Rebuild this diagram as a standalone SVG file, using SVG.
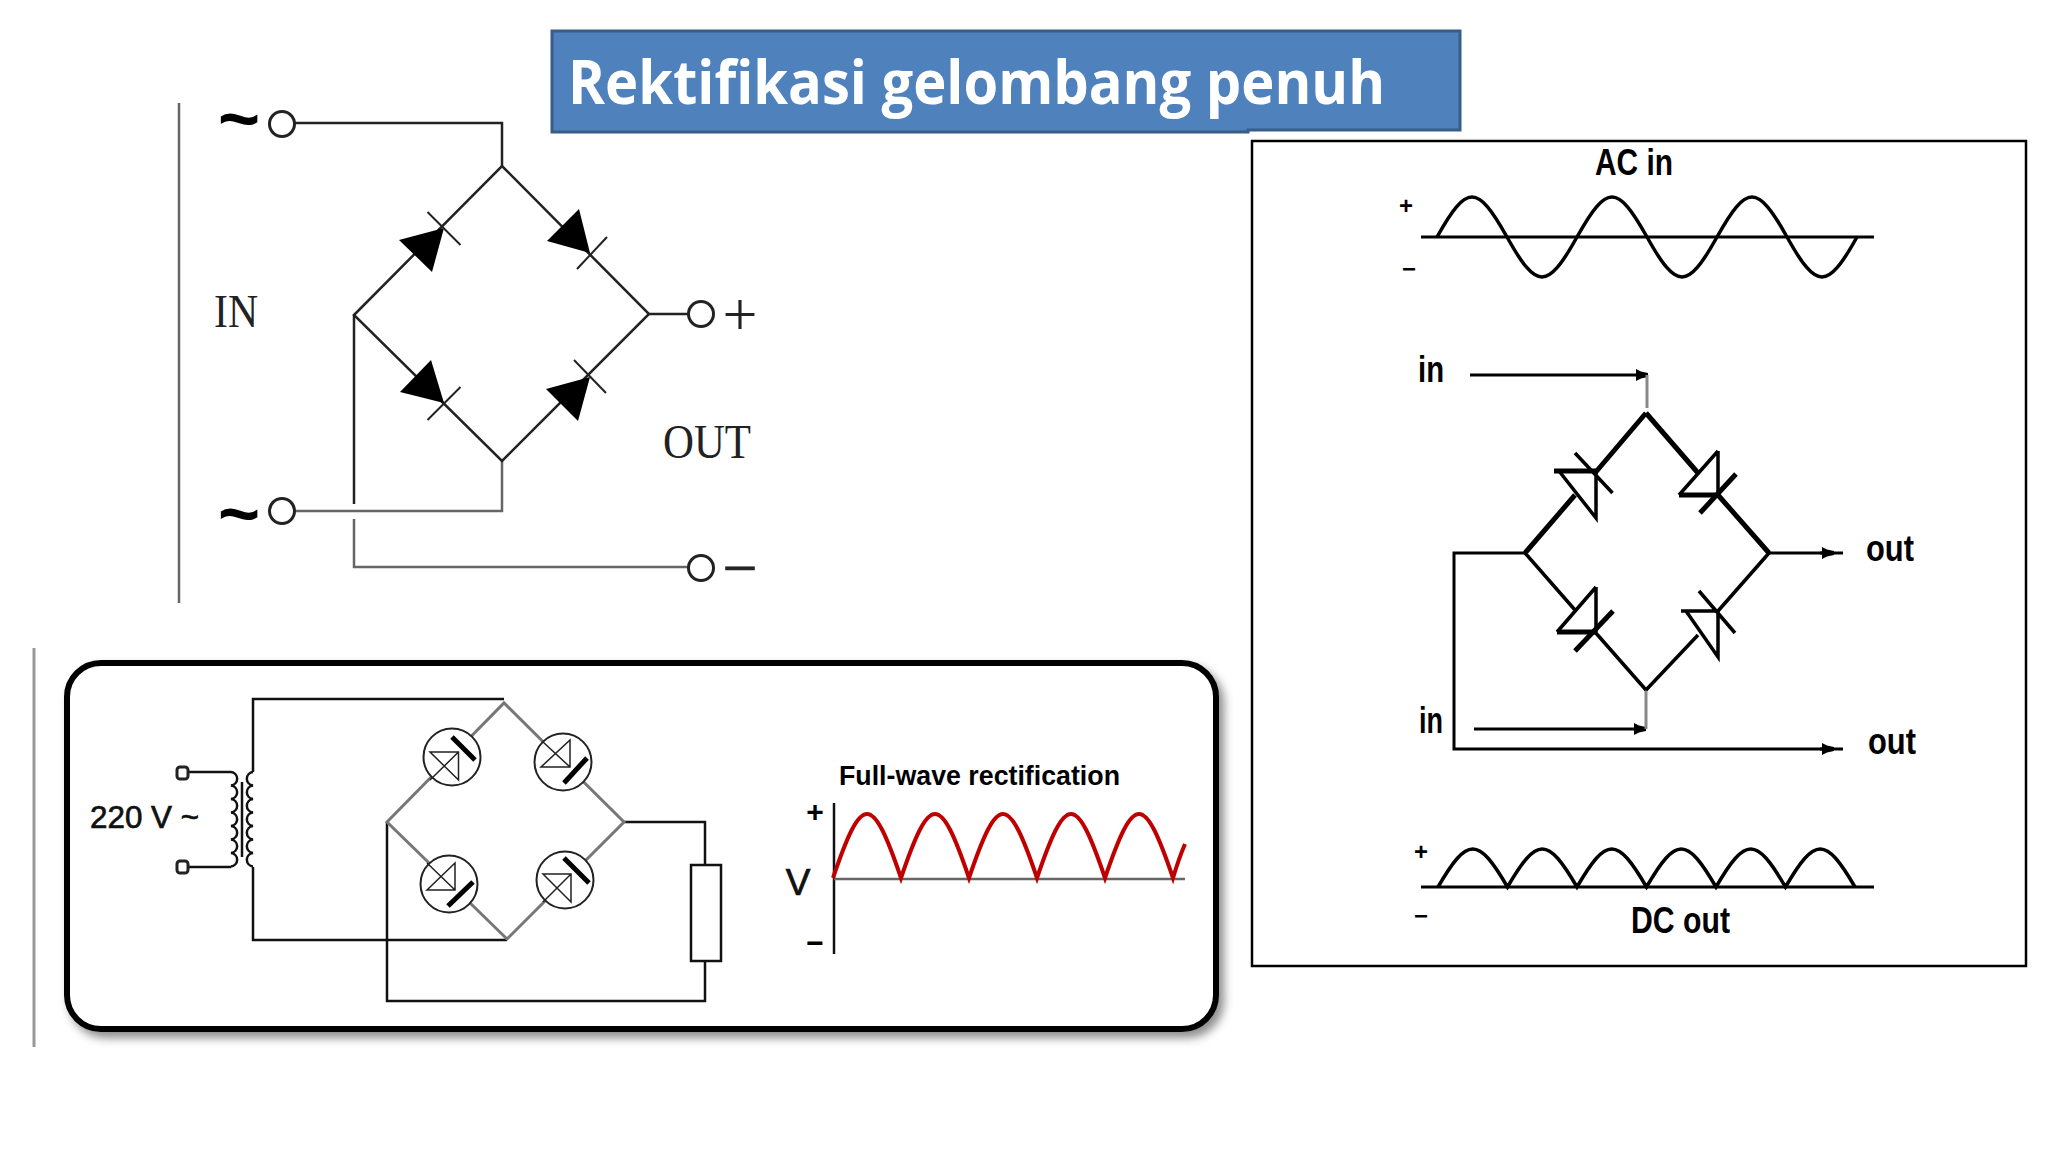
<svg xmlns="http://www.w3.org/2000/svg" width="2048" height="1152" viewBox="0 0 2048 1152">
<style>
.w1{fill:none;stroke:#222;stroke-width:2.5}
.w1g{fill:none;stroke:#666;stroke-width:2.5}
.term{fill:#fff;stroke:#222;stroke-width:3}
.bar1{fill:none;stroke:#222;stroke-width:2}
.tri{fill:#000;stroke:none}
.w2{fill:none;stroke:#111;stroke-width:2.5}
.dia2{fill:none;stroke:#777;stroke-width:3}
.bulb{fill:#fff;stroke:#222;stroke-width:2}
.thin{fill:none;stroke:#222;stroke-width:1.5}
.thick{fill:none;stroke:#000;stroke-width:5}
.w3{fill:none;stroke:#000;stroke-width:3}
.w3w{fill:none;stroke:#000;stroke-width:3.5}
.w3t{fill:none;stroke:#000;stroke-width:5}
.gr{fill:none;stroke:#888;stroke-width:3}
.s{font-family:"Liberation Serif",serif;fill:#222}
.a{font-family:"Liberation Sans",Arial,sans-serif;fill:#111;stroke:#111;stroke-width:.7}
.b{font-family:"Liberation Sans",Arial,sans-serif;font-weight:700;fill:#000}
.t{font-family:"Liberation Sans",Arial,sans-serif;font-weight:700;fill:#000}
</style>
<defs>
<filter id="shadow" x="-5%" y="-5%" width="110%" height="112%"><feDropShadow dx="5" dy="6" stdDeviation="5" flood-color="#000" flood-opacity="0.45"/></filter>
<marker id="ah" markerUnits="userSpaceOnUse" markerWidth="14" markerHeight="12" refX="12" refY="6" orient="auto"><polygon points="0,0 5,2.5 12,4 12,8 5,9.5 0,12" fill="#000"/></marker>
</defs>
<rect width="2048" height="1152" fill="#fff"/>

<g id="title">
<path d="M552,31H1460V130H1248V132H552Z" fill="#4f81bd" stroke="#385d8a" stroke-width="3"/>
<text x="568" y="104" font-family="'Open Sans','Noto Sans',sans-serif" font-weight="700" font-size="61" fill="#fff" textLength="817" lengthAdjust="spacingAndGlyphs">Rektifikasi gelombang penuh</text>
</g>

<g id="bridge-1">
<g id="connectors-1">
<path class="w1g" d="M179,103V603" stroke-width="2"/>
<path class="w1" d="M295,123H502V166"/>
<path class="w1g" d="M502,461V511H295"/>
<path class="w1" d="M354,315L502,166L649,314L502,461Z"/>
<path class="w1" d="M354,315V504"/>
<path class="w1g" d="M354,519V567H690"/>
<path class="w1" d="M649,314H690"/>
</g>
<g id="in-top"><circle class="term" cx="282" cy="124" r="12.5"/><text class="t" x="239" y="143" font-size="72" text-anchor="middle">~</text></g>
<g id="in-bottom"><circle class="term" cx="282" cy="511" r="12.5"/><text class="t" x="239" y="538" font-size="72" text-anchor="middle">~</text></g>
<g id="out-plus"><circle class="term" cx="701" cy="314" r="12.5"/><text class="s" x="740" y="335" font-size="62" text-anchor="middle">+</text></g>
<g id="out-minus"><circle class="term" cx="701" cy="568" r="12.5"/><text class="s" x="740" y="589" font-size="62" text-anchor="middle" stroke="#222" stroke-width=".6">−</text></g>
<g id="d1-tl"><polygon class="tri" points="444,228 399,240 432,272"/><path class="bar1" d="M427.5,212L460.5,245"/></g>
<g id="d1-tr"><polygon class="tri" points="590,253 579,209 547,241"/><path class="bar1" d="M577,269L607,237"/></g>
<g id="d1-bl"><polygon class="tri" points="444,403 431,360 400,392"/><path class="bar1" d="M427.5,420L460.5,387"/></g>
<g id="d1-br"><polygon class="tri" points="590,377 546,389 578,421"/><path class="bar1" d="M574,360L606,393"/></g>
<text class="s" x="214" y="327" font-size="46" textLength="44" lengthAdjust="spacingAndGlyphs">IN</text>
<text class="s" x="663" y="458" font-size="48" textLength="88" lengthAdjust="spacingAndGlyphs">OUT</text>
</g>

<g id="bridge-2">
<path d="M34,648V1047" fill="none" stroke="#999" stroke-width="3"/>
<rect id="panel" x="67" y="663" width="1149" height="366" rx="34" ry="34" fill="#fff" stroke="#000" stroke-width="6" filter="url(#shadow)"/>
<g id="connectors-2">
<path class="w2" d="M188,772H231M188,867H231"/>
<path class="w2" d="M504,699H253V772M253,867V940H507"/>
<path class="w2" d="M624,822H705V865M705,961V1001H387V822"/>
<path class="dia2" d="M387,822L504,703L624,822L507,939Z"/>
</g>
<g id="source">
<rect class="term" x="177" y="767" width="11" height="12" rx="3" stroke="#444"/>
<rect class="term" x="177" y="861" width="11" height="12" rx="3" stroke="#444"/>
<text class="a" x="90" y="828" font-size="32" textLength="109" lengthAdjust="spacingAndGlyphs">220 V ~</text>
</g>
<g id="transformer">
<path class="w2" d="M231,772a7,6.8 0 0 1 0,13.5a7,6.8 0 0 1 0,13.5a7,6.8 0 0 1 0,13.5a7,6.8 0 0 1 0,13.5a7,6.8 0 0 1 0,13.5a7,6.8 0 0 1 0,13.5a7,6.8 0 0 1 0,13.5"/>
<path class="w2" d="M253,772a7,6.8 0 0 0 0,13.5a7,6.8 0 0 0 0,13.5a7,6.8 0 0 0 0,13.5a7,6.8 0 0 0 0,13.5a7,6.8 0 0 0 0,13.5a7,6.8 0 0 0 0,13.5a7,6.8 0 0 0 0,13.5"/>
<path class="w2" d="M242,782V857"/>
</g>
<g id="d2-tl"><circle class="bulb" cx="452" cy="757" r="28.5"/><path class="thin" d="M430,752H458.5V780ZM458.5,752L430,780"/><path class="thick" d="M452,737L475,760"/></g>
<g id="d2-tr"><circle class="bulb" cx="563" cy="762" r="28.5"/><path class="thin" d="M570,740V767H541ZM570,767L543,742"/><path class="thick" d="M564,783L587,758"/></g>
<g id="d2-bl"><circle class="bulb" cx="449" cy="884" r="28.5"/><path class="thin" d="M455,863V890H427ZM455,890L427,863"/><path class="thick" d="M448,906L473,882"/></g>
<g id="d2-br"><circle class="bulb" cx="565" cy="880" r="28.5"/><path class="thin" d="M543,874H571V902ZM571,874L543,902"/><path class="thick" d="M564,858L589,883"/></g>
<g id="load"><rect x="691" y="865" width="30" height="96" fill="#fff" stroke="#111" stroke-width="2.5"/></g>
<g id="graph-2">
<path d="M834,803V954" fill="none" stroke="#111" stroke-width="2.5"/>
<path d="M834,879H1185" fill="none" stroke="#666" stroke-width="2.5"/>
<path fill="none" stroke="#c00000" stroke-width="4" d="M833,878c28.9,-85.3 39.1,-85.3 68,0c28.9,-85.3 39.1,-85.3 68,0c28.9,-85.3 39.1,-85.3 68,0c28.9,-85.3 39.1,-85.3 68,0c28.9,-85.3 39.1,-85.3 68,0Q1179,858 1185,844"/>
<text class="b" x="839" y="785" font-size="28" textLength="281" lengthAdjust="spacingAndGlyphs">Full-wave rectification</text>
<text class="b" x="815" y="822" font-size="30" text-anchor="middle">+</text>
<text class="b" x="815" y="953" font-size="30" text-anchor="middle">−</text>
<text class="a" x="798" y="895" font-size="37" text-anchor="middle">V</text>
</g>
</g>

<g id="bridge-3">
<rect id="frame" x="1252" y="141" width="774" height="825" fill="none" stroke="#000" stroke-width="2.5"/>
<g id="ac-in">
<path class="w3" d="M1421,237H1874"/>
<path class="w3w" d="M1437,237c29.7,-53.3 40.3,-53.3 70,0c29.7,53.3 40.3,53.3 70,0c29.7,-53.3 40.3,-53.3 70,0c29.7,53.3 40.3,53.3 70,0c29.7,-53.3 40.3,-53.3 70,0c29.7,53.3 40.3,53.3 70,0"/>
<text class="b" x="1595" y="175" font-size="36" textLength="78" lengthAdjust="spacingAndGlyphs">AC in</text>
<text class="b" x="1406" y="214" font-size="24" text-anchor="middle">+</text>
<text class="b" x="1409" y="277" font-size="24" text-anchor="middle">−</text>
</g>
<g id="connectors-3">
<path class="w3" d="M1470,375H1648" marker-end="url(#ah)"/>
<path class="gr" d="M1647,375V408"/>
<path class="w3" d="M1474,729H1646" marker-end="url(#ah)"/>
<path class="gr" d="M1646,690V729"/>
<path class="w3" d="M1525,553H1454V749H1843"/>
<path class="w3" d="M1769,553H1843"/>
<path class="w3" d="M1820,749H1834" marker-end="url(#ah)"/>
<path class="w3" d="M1820,553H1834" marker-end="url(#ah)"/>
<path class="w3t" d="M1646,413L1595,473M1575,495L1525,553"/>
<path class="w3t" d="M1646,413L1698,473M1718,495L1769,553"/>
<path class="w3w" d="M1525,553L1575,610M1595,632L1646,690M1646,690L1698,635M1718,611L1769,553"/>
</g>
<g id="d3-tl"><path class="w3t" d="M1554,471H1596"/><path class="w3w" d="M1596,471V518L1559,471M1575,453L1612.5,493"/></g>
<g id="d3-tr"><path class="w3t" d="M1679,495H1718"/><path class="w3w" d="M1718,451V495M1679,495L1718,451"/><path class="w3t" d="M1700,513L1736,474"/></g>
<g id="d3-bl"><path class="w3t" d="M1557,632H1596"/><path class="w3w" d="M1596,587V632M1557,632L1596,587"/><path class="w3t" d="M1575,651L1613,611"/></g>
<g id="d3-br"><path class="w3w" d="M1681,611H1718V657L1686,611M1699,591L1735,633"/></g>
<text class="b" x="1418" y="382" font-size="36" textLength="26" lengthAdjust="spacingAndGlyphs">in</text>
<text class="b" x="1419" y="733" font-size="36" textLength="24" lengthAdjust="spacingAndGlyphs">in</text>
<text class="b" x="1866" y="561" font-size="36" textLength="48" lengthAdjust="spacingAndGlyphs">out</text>
<text class="b" x="1868" y="754" font-size="36" textLength="48" lengthAdjust="spacingAndGlyphs">out</text>
<g id="dc-out">
<path class="w3" d="M1421,887H1874"/>
<path class="w3w" d="M1438,887c29.5,-50.7 40,-50.7 69.5,0c29.5,-50.7 40,-50.7 69.5,0c29.5,-50.7 40,-50.7 69.5,0c29.5,-50.7 40,-50.7 69.5,0c29.5,-50.7 40,-50.7 69.5,0c29.5,-50.7 40,-50.7 69.5,0"/>
<text class="b" x="1631" y="933" font-size="36" textLength="99" lengthAdjust="spacingAndGlyphs">DC out</text>
<text class="b" x="1421" y="860" font-size="24" text-anchor="middle">+</text>
<text class="b" x="1421" y="924" font-size="24" text-anchor="middle">−</text>
</g>
</g>
</svg>
